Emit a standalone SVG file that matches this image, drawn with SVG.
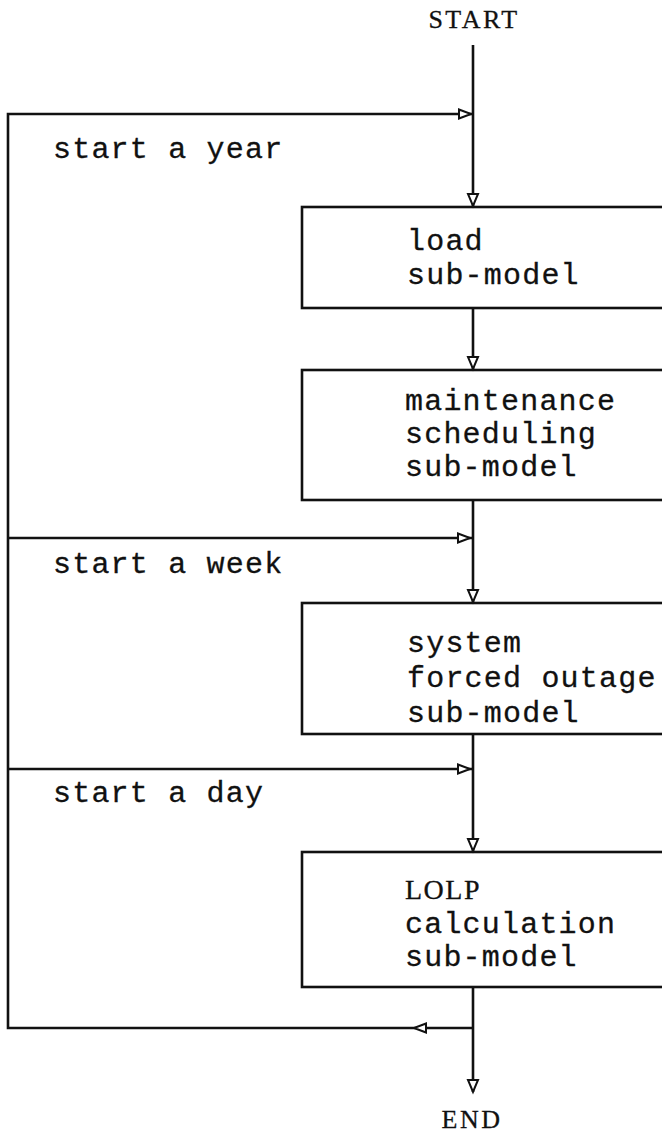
<svg xmlns="http://www.w3.org/2000/svg" width="662" height="1133" viewBox="0 0 662 1133">
<style>
.ln{stroke:#111;stroke-width:2.6;fill:none}
.box{stroke:#111;stroke-width:2.6;fill:none}
.t{font-family:"Liberation Mono",monospace;font-size:30px;letter-spacing:1.2px;fill:#111;stroke:#111;stroke-width:0.3}
.s{font-family:"Liberation Serif",serif;font-size:26px;letter-spacing:2.5px;fill:#111;stroke:#111;stroke-width:0.3}
.ah{fill:#fff;stroke:#111;stroke-width:2}
</style>
<defs>
<path id="ad" class="ah" d="M-5,-12 L5,-12 L0,0 Z"/>
<path id="ar" class="ah" d="M-12,-4.5 L-12,4.5 L0,0 Z"/>
<path id="al" class="ah" d="M12,-4.5 L12,4.5 L0,0 Z"/>
</defs>
<rect width="662" height="1133" fill="#fff"/>
<g id="connectors">
<path class="ln" d="M473,45 V207 M473,308 V370 M473,500 V603 M473,734 V852 M473,987 V1092"/>
<path class="ln" d="M473,114 H8 V1028 H473 M8,538 H473 M8,769 H473"/>
<use href="#ar" x="471" y="114"/>
<use href="#ar" x="470" y="538"/>
<use href="#ar" x="470" y="769"/>
<use href="#al" x="414" y="1028"/>
<use href="#ad" x="473" y="206"/>
<use href="#ad" x="473" y="369"/>
<use href="#ad" x="473" y="602"/>
<use href="#ad" x="473" y="851"/>
<use href="#ad" x="473" y="1092"/>
</g>
<g id="start"><text class="s" x="474" y="28" text-anchor="middle">START</text></g>
<g id="label-year"><text class="t" x="53" y="158">start a year</text></g>
<g id="box-load">
<rect class="box" x="302" y="207" width="380" height="101"/>
<text class="t" x="407" y="250">load</text>
<text class="t" x="407" y="284">sub-model</text>
</g>
<g id="box-maintenance">
<rect class="box" x="302" y="370" width="380" height="130"/>
<text class="t" x="405" y="410">maintenance</text>
<text class="t" x="405" y="443">scheduling</text>
<text class="t" x="405" y="476">sub-model</text>
</g>
<g id="label-week"><text class="t" x="53" y="573">start a week</text></g>
<g id="box-outage">
<rect class="box" x="302" y="603" width="380" height="131"/>
<text class="t" x="407" y="652">system</text>
<text class="t" x="407" y="687">forced outage</text>
<text class="t" x="407" y="722">sub-model</text>
</g>
<g id="label-day"><text class="t" x="53" y="802">start a day</text></g>
<g id="box-lolp">
<rect class="box" x="302" y="852" width="380" height="135"/>
<text class="s" x="405" y="899" style="font-size:28px;letter-spacing:1.5px">LOLP</text>
<text class="t" x="405" y="933">calculation</text>
<text class="t" x="405" y="966">sub-model</text>
</g>
<g id="end"><text class="s" x="472" y="1128" text-anchor="middle">END</text></g>
</svg>
